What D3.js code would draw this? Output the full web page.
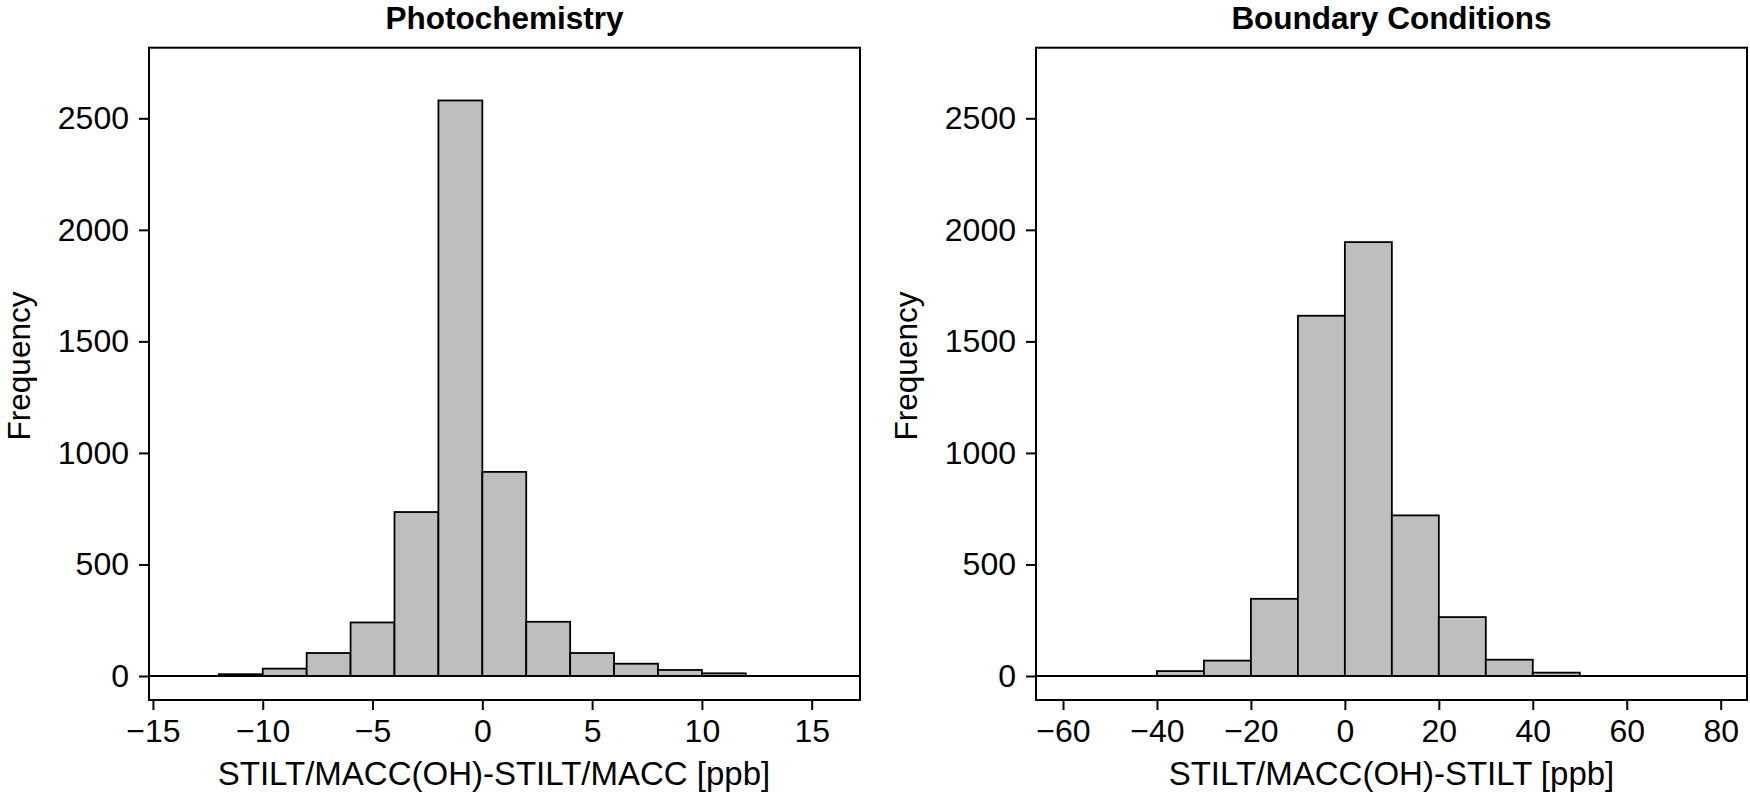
<!DOCTYPE html>
<html>
<head>
<meta charset="utf-8">
<script src="https://cdn.jsdelivr.net/npm/d3@7"></script>
<style>
  html, body { margin: 0; padding: 0; background: #fff; }
  svg { display: block; font-family: 'Liberation Sans', Arial, Helvetica, sans-serif; }
</style>
</head>
<body>
<div id="chart"></div>
<script>
/* histogram bins */
const photoBreaks = [-12, -10, -8, -6, -4, -2, 0, 2, 4, 6, 8, 10, 12]
const photoCounts = [8, 33, 103, 240, 735, 2580, 915, 243, 103, 55, 27, 12]

const boundBreaks = [-40, -30, -20, -10, 0, 10, 20, 30, 40, 50]
const boundCounts = [22, 69, 346, 1615, 1945, 720, 264, 73, 15]

const photoTicks = [-15, -10, -5, 0, 5, 10, 15]
const boundTicks = [-60, -40, -20, 0, 20, 40, 60, 80]
const freqTicks = [0, 500, 1000, 1500, 2000, 2500]

const titles = ['Photochemistry', 'Boundary Conditions']
const xLabels = ['STILT/MACC(OH)-STILT/MACC [ppb]', 'STILT/MACC(OH)-STILT [ppb]']
const yLabel = 'Frequency'

const W = 1750
const H = 800
const plotTop = 47.7
const plotBottom = 700
const yDomain = [-107.6, 2816.5]

const svg = d3.select('#chart')
  .append('svg')
  .attr('width', W)
  .attr('height', H)
  .attr('viewBox', `0 0 ${W} ${H}`)

function minus(v) {
  return v < 0 ? '\u2212' + Math.abs(v) : String(v)
}

function drawPanel(opts) {
  const { left, right, xDomain, breaks, counts, xTicks, title, xLabel, xLabelCenter } = opts

  const x = d3.scaleLinear().domain(xDomain).range([left, right])
  const y = d3.scaleLinear().domain(yDomain).range([plotBottom, plotTop])

  const bins = counts.map((c, i) => ({ x0: breaks[i], x1: breaks[i + 1], count: c }))

  const g = svg.append('g')

  /* bars */
  g.append('g')
    .selectAll('rect')
    .data(bins)
    .join('rect')
    .attr('x', d => x(d.x0))
    .attr('y', d => y(d.count))
    .attr('width', d => x(d.x1) - x(d.x0))
    .attr('height', d => y(0) - y(d.count))
    .attr('fill', '#bebebe')
    .attr('stroke', '#000')
    .attr('stroke-width', 1.8)

  /* zero line */
  g.append('line')
    .attr('x1', left)
    .attr('x2', right)
    .attr('y1', y(0))
    .attr('y2', y(0))
    .attr('stroke', '#000')
    .attr('stroke-width', 2)

  /* axes */
  const xAxis = g.append('g')
    .attr('transform', `translate(0,${plotBottom})`)
    .call(d3.axisBottom(x).tickValues(xTicks).tickFormat(minus).tickSize(10).tickPadding(9))
  const yAxis = g.append('g')
    .attr('transform', `translate(${left},0)`)
    .call(d3.axisLeft(y).tickValues(freqTicks).tickFormat(d3.format('d')).tickSize(10).tickPadding(10))

  for (const ax of [xAxis, yAxis]) {
    ax.select('.domain').remove()
    ax.selectAll('line').attr('stroke', '#000').attr('stroke-width', 2)
    ax.selectAll('text')
      .attr('fill', '#000')
      .attr('font-size', 32)
      .attr('font-family', "'Liberation Sans', Arial, Helvetica, sans-serif")
  }

  /* frame */
  g.append('rect')
    .attr('x', left)
    .attr('y', plotTop)
    .attr('width', right - left)
    .attr('height', plotBottom - plotTop)
    .attr('fill', 'none')
    .attr('stroke', '#000')
    .attr('stroke-width', 2)

  /* title */
  g.append('text')
    .text(title)
    .attr('x', (left + right) / 2)
    .attr('y', 29)
    .attr('text-anchor', 'middle')
    .attr('font-size', 31.5)
    .attr('font-weight', 700)

  /* x label */
  g.append('text')
    .text(xLabel)
    .attr('x', xLabelCenter)
    .attr('y', 785)
    .attr('text-anchor', 'middle')
    .attr('font-size', 33)

  /* y label */
  g.append('text')
    .text(yLabel)
    .attr('transform', `translate(${left - 119},366) rotate(-90)`)
    .attr('text-anchor', 'middle')
    .attr('font-size', 31.5)
}

drawPanel({
  left: 149, right: 860,
  xDomain: [-15.18, 17.2],
  breaks: photoBreaks, counts: photoCounts, xTicks: photoTicks,
  title: titles[0], xLabel: xLabels[0], xLabelCenter: 494
})

drawPanel({
  left: 1036, right: 1747,
  xDomain: [-65.75, 85.6],
  breaks: boundBreaks, counts: boundCounts, xTicks: boundTicks,
  title: titles[1], xLabel: xLabels[1], xLabelCenter: 1391.5
})
</script>
</body>
</html>
